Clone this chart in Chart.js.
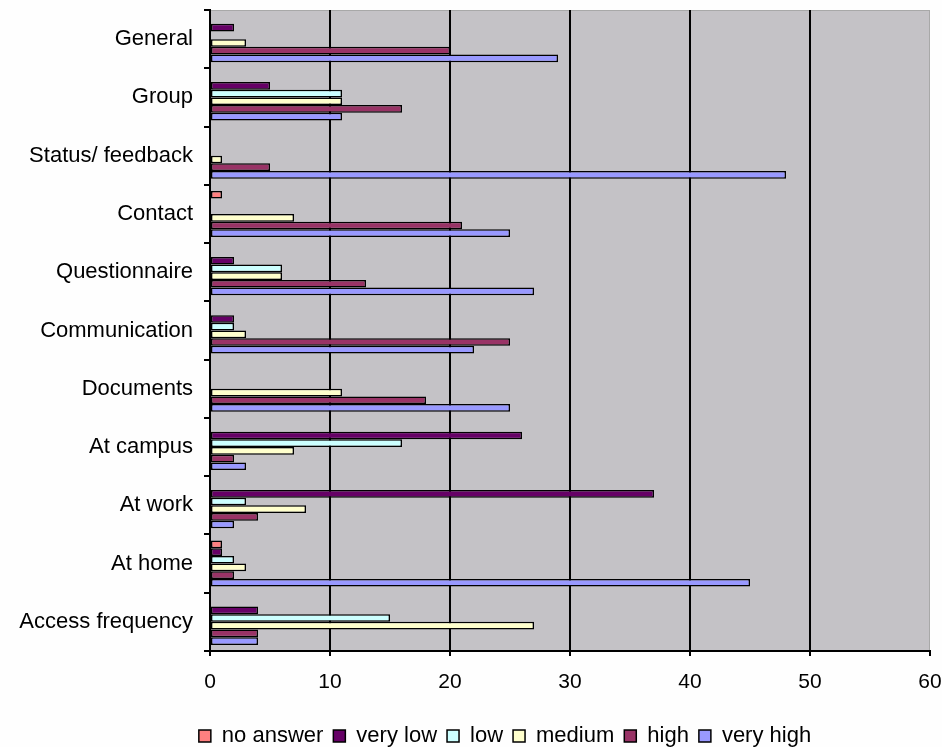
<!DOCTYPE html>
<html>
<head>
<meta charset="utf-8">
<script src="https://cdn.jsdelivr.net/npm/chart.js@4/dist/chart.umd.min.js"></script>
<style>
  html, body { margin: 0; padding: 0; background: #fefefe; }
  #chart { display: block; }
</style>
</head>
<body>
<canvas id="chart" width="942" height="747"></canvas>
<script>
// categories, top to bottom
const categories = ["General", "Group", "Status/ feedback", "Contact", "Questionnaire",
    "Communication", "Documents", "At campus", "At work", "At home", "Access frequency"];

const noAnswer = [0, 0, 0, 1, 0, 0, 0, 0, 0, 1, 0];
const veryLow  = [2, 5, 0, 0, 2, 2, 0, 26, 37, 1, 4];
const low      = [0, 11, 0, 0, 6, 2, 0, 16, 3, 2, 15];
const medium   = [3, 11, 1, 7, 6, 3, 11, 7, 8, 3, 27];
const high     = [20, 16, 5, 21, 13, 25, 18, 2, 4, 2, 4];
const veryHigh = [29, 11, 48, 25, 27, 22, 25, 3, 2, 45, 4];

const seriesNames = ["no answer", "very low", "low", "medium", "high", "very high"];
const seriesData = [noAnswer, veryLow, low, medium, high, veryHigh];
const seriesColors = ["#ff8080", "#660066", "#ccffff", "#ffffcc", "#993366", "#9999ff"];

const FONT = 'Arial, "Liberation Sans", sans-serif';

// grey plot area like the old Excel charts, legend nudged right
const plotBg = {
    id: "plotBg",
    afterLayout(chart){
        const lg = chart.legend;
        if(lg){ lg.left += 40; lg.right += 40; }
    },
    beforeDraw(chart){
        const a = chart.chartArea;
        const ctx = chart.ctx;
        ctx.save();
        ctx.fillStyle = "#c4c2c6";
        ctx.fillRect(a.left, a.top, a.right - a.left, a.bottom - a.top);
        ctx.strokeStyle = "#a8a8a8";
        ctx.lineWidth = 1;
        ctx.strokeRect(a.left + 0.5, a.top + 0.5, a.right - a.left - 1, a.bottom - a.top - 1);
        ctx.restore();
    }
};

new Chart(document.getElementById("chart"), {
    type: "bar",
    data: {
        labels: categories,
        datasets: seriesNames.map((name, i) => ({
            label: name,
            data: seriesData[i],
            backgroundColor: seriesColors[i],
            borderColor: "#000",
            borderWidth: 1.5,
            borderSkipped: false,
            barPercentage: 1,
            categoryPercentage: 0.79
        }))
    },
    options: {
        indexAxis: "y",
        responsive: false,
        animation: false,
        layout: { padding: { left: 0, right: 12, top: 10, bottom: -10 } },
        plugins: {
            tooltip: { enabled: false },
            legend: {
                position: "bottom",
                labels: {
                    color: "#000",
                    font: { family: FONT, size: 22 },
                    boxWidth: 12,
                    boxHeight: 12,
                    padding: 10
                }
            }
        },
        scales: {
            x: {
                min: 0,
                max: 60,
                ticks: { stepSize: 10, color: "#000", font: { family: FONT, size: 21 }, padding: 14 },
                grid: {
                    color: c => (c.tick && c.tick.value === 60) ? "rgba(0,0,0,0)" : "#000",
                    tickColor: "#000",
                    lineWidth: 2,
                    tickLength: 5
                },
                border: { color: "#000", width: 2 },
                afterFit(scale){
                    scale.height = 64;
                    scale.paddingLeft = 0;
                    scale.paddingRight = 0;
                }
            },
            y: {
                ticks: { color: "#000", font: { family: FONT, size: 22 }, padding: 11, autoSkip: false },
                grid: {
                    drawOnChartArea: false,
                    color: "#000",
                    lineWidth: 2,
                    tickLength: 6
                },
                border: { color: "#000", width: 2 },
                afterFit(scale){
                    scale.width = 210;
                    scale.paddingTop = 0;
                    scale.paddingBottom = 0;
                }
            }
        }
    },
    plugins: [plotBg]
});
</script>
</body>
</html>
